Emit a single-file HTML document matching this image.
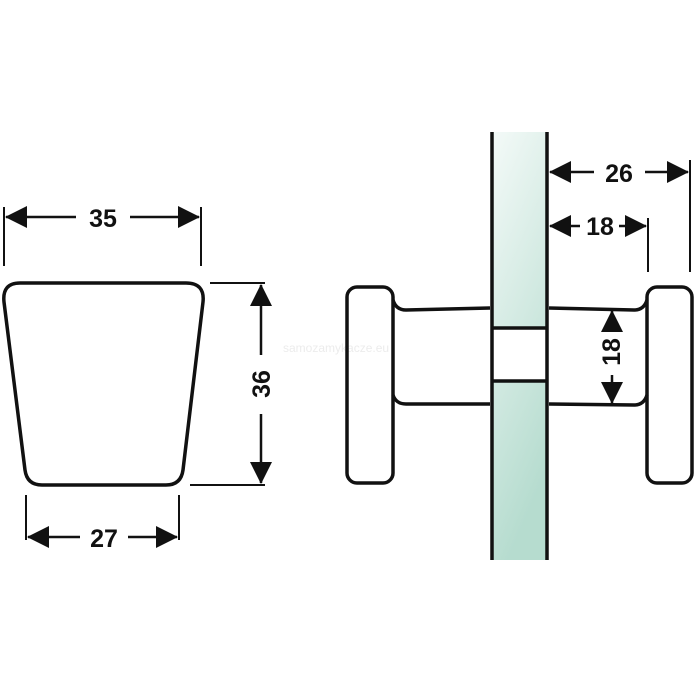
<!DOCTYPE html>
<html><head><style>
html,body{margin:0;padding:0;background:#fff;}
svg{display:block;}
text{font-family:"Liberation Sans",Arial,sans-serif;font-weight:bold;fill:#111;}
</style></head><body>
<svg width="696" height="696" viewBox="0 0 696 696" xmlns="http://www.w3.org/2000/svg">
<defs>
<linearGradient id="g" x1="0" y1="0" x2="0.3" y2="1">
<stop offset="0" stop-color="#f4faf8"/>
<stop offset="1" stop-color="#b6dccf"/>
</linearGradient>
<marker id="a" viewBox="0 0 10 10" refX="10" refY="5" markerWidth="7" markerHeight="5" markerUnits="userSpaceOnUse" orient="auto-start-reverse"><path d="M0,0L10,5L0,10z" fill="#111"/></marker>
</defs>
<g stroke="#111" fill="none" stroke-width="3">
<!-- left trapezoid -->
<path d="M20,283 L186,283 Q205,283 203,302 L183,470 Q181,485 166,485 L42,485 Q27,485 25,470 L4,302 Q2,283 20,283 Z" stroke-width="3.5"/>
<!-- extension lines -->
<line x1="4" y1="207" x2="4" y2="266" stroke-width="2"/>
<line x1="201" y1="207" x2="201" y2="266" stroke-width="2"/>
<line x1="210" y1="283" x2="265" y2="283" stroke-width="2"/>
<line x1="190" y1="485" x2="265" y2="485" stroke-width="2"/>
<line x1="26" y1="495" x2="26" y2="540" stroke-width="2"/>
<line x1="179" y1="495" x2="179" y2="540" stroke-width="2"/>
<line x1="690" y1="160" x2="690" y2="272" stroke-width="2"/>
<line x1="648" y1="218" x2="648" y2="272" stroke-width="2"/>
</g>
<g stroke="#111" stroke-width="2.5" fill="none">
<!-- 35 -->
<line x1="76" y1="217" x2="6" y2="217"/><line x1="130" y1="217" x2="199" y2="217"/>
<!-- 27 -->
<line x1="80" y1="537" x2="28" y2="537"/><line x1="128" y1="537" x2="177" y2="537"/>
<!-- 36 -->
<line x1="261" y1="355" x2="261" y2="285"/><line x1="261" y1="414" x2="261" y2="483"/>
<!-- 26 -->
<line x1="594" y1="172" x2="550" y2="172"/><line x1="645" y1="172" x2="688" y2="172"/>
<!-- 18 -->
<line x1="580" y1="226" x2="550" y2="226"/><line x1="619" y1="226" x2="646" y2="226"/>
<!-- 18 vertical -->
<line x1="612" y1="329" x2="612" y2="311"/><line x1="612" y1="375" x2="612" y2="403"/>
</g>
<g fill="#111">
<path d="M5,217 L27,206 L27,228Z"/><path d="M200,217 L178,206 L178,228Z"/>
<path d="M27,537 L49,526 L49,548Z"/><path d="M178,537 L156,526 L156,548Z"/>
<path d="M261,284 L250,306 L272,306Z"/><path d="M261,484 L250,462 L272,462Z"/>
<path d="M549,172 L571,161 L571,183Z"/><path d="M689,172 L667,161 L667,183Z"/>
<path d="M549,226 L571,215 L571,237Z"/><path d="M647,226 L625,215 L625,237Z"/>
<path d="M612,310 L601,332 L623,332Z"/><path d="M612,404 L601,382 L623,382Z"/>
</g>
<text x="103" y="227" font-size="25" text-anchor="middle">35</text>
<text x="104" y="547" font-size="25" text-anchor="middle">27</text>
<text x="619" y="182" font-size="25" text-anchor="middle">26</text>
<text x="600" y="235" font-size="25" text-anchor="middle">18</text>
<text transform="translate(270,384) rotate(-90)" font-size="25" text-anchor="middle">36</text>
<text transform="translate(620,352) rotate(-90)" font-size="25" text-anchor="middle">18</text>
<!-- glass -->
<rect x="492" y="132" width="55" height="428" fill="url(#g)"/>
<rect x="492" y="328" width="55" height="53" fill="#fff"/>
<text x="283" y="352" font-size="12" font-weight="normal" style="fill:#ececec;font-weight:normal">samozamykacze.eu</text>
<g stroke="#111" fill="none" stroke-width="3.5">
<line x1="492" y1="132" x2="492" y2="560"/>
<line x1="547" y1="132" x2="547" y2="560"/>
<line x1="492" y1="328" x2="547" y2="328"/>
<line x1="492" y1="381" x2="547" y2="381"/>
<!-- plates -->
<rect x="347" y="287" width="46" height="196" rx="10"/>
<rect x="647" y="287" width="45" height="196" rx="10"/>
<!-- shafts -->
<path d="M393,300 Q396,310 406,310 L490,308"/>
<path d="M393,395 Q396,404 406,404 L490,404"/>
<path d="M647,300 Q644,310 634,310 L549,308"/>
<path d="M647,395 Q644,405 634,405 L549,404"/>
</g>
</svg>
</body></html>
